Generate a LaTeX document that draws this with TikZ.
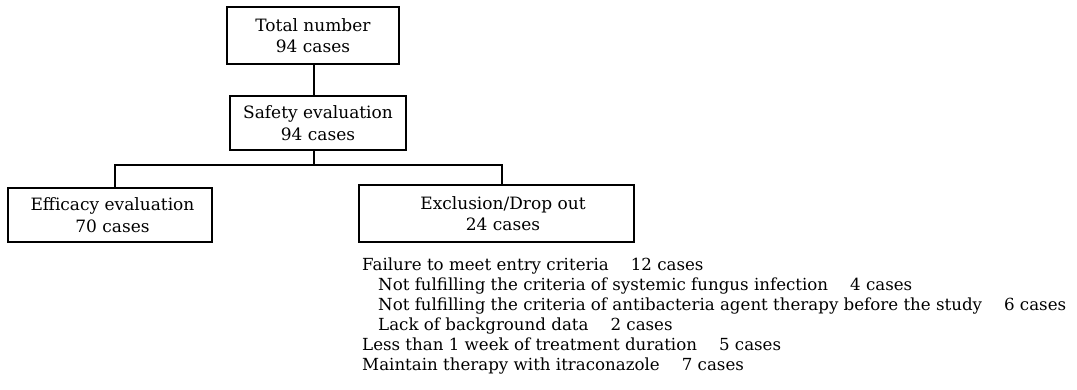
\documentclass[tikz,border=0pt]{standalone}
\usepackage{fontspec}
\setmainfont{DejaVu Serif}
\begin{document}
\begin{tikzpicture}[x=1pt,y=-1pt,
  box/.style={draw,line width=1.2pt,rectangle,inner sep=0pt,align=center,font=\fontsize{17}{21.5}\selectfont},
  conn/.style={line width=1.2pt}]
\useasboundingbox (0,0) rectangle (1077,389);
\node[box,minimum width=172pt,minimum height=57pt] (total) at (313,35.5) {Total number\\94 cases};
\node[box,minimum width=176pt,minimum height=54pt] (safety) at (318,123) {Safety evaluation\\94 cases};
\node[box,minimum width=204pt,minimum height=54pt] (eff) at (110,215) {\hspace*{5pt}Efficacy evaluation\\\hspace*{5pt}70 cases};
\node[box,minimum width=275pt,minimum height=57pt] (excl) at (496.5,213.5) {\hspace*{13pt}Exclusion/Drop out\\\hspace*{13pt}24 cases};
\coordinate (j) at (314,165);
\draw[conn] (total.south -| j) -- (safety.north -| j);
\draw[conn] (safety.south -| j) -- (j);
\draw[conn] (eff.north -| 115,0) |- (j) -| (excl.north -| 502,0);
\node[anchor=base west,align=left,inner sep=0pt,font=\fontsize{16.65}{20}\selectfont] (list) at (362,370) {%
Failure to meet entry criteria\hspace{22pt}12 cases\\
\hspace*{16pt}Not fulfilling the criteria of systemic fungus infection\hspace{22pt}4 cases\\
\hspace*{16pt}Not fulfilling the criteria of antibacteria agent therapy before the study\hspace{22pt}6 cases\\
\hspace*{16pt}Lack of background data\hspace{22pt}2 cases\\
Less than 1 week of treatment duration\hspace{22pt}5 cases\\
Maintain therapy with itraconazole\hspace{22pt}7 cases};
\end{tikzpicture}
\end{document}
